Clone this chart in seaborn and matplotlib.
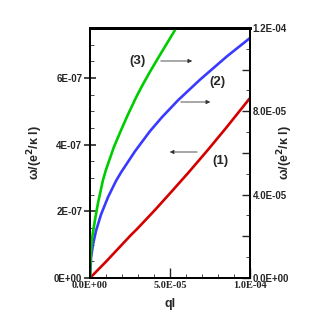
import numpy as np
import pandas as pd
import seaborn as sns
import matplotlib.pyplot as plt
from matplotlib.ticker import MultipleLocator, FuncFormatter

# values
# curve (1) uses the left axis, curves (2) and (3) the right axis
q1 = [0, 1.0e-5, 2.56e-5, 2.94e-5, 4.06e-5, 5.0e-5, 6.13e-5, 7.38e-5, 8.5e-5, 1.0e-4]
w1 = [0, 0.49e-7, 1.29e-7, 1.47e-7, 2.04e-7, 2.54e-7, 3.15e-7, 3.85e-7, 4.5e-7, 5.40e-7]

q2 = [0, 0.01e-5, 0.044e-5, 0.06e-5, 0.19e-5, 0.375e-5, 0.69e-5, 1.125e-5,
      1.625e-5, 1.94e-5, 2.81e-5, 3.75e-5, 4.5e-5, 5.5e-5, 6.875e-5, 8.56e-5, 1.0e-4]
w2 = [0, 0.2e-5, 0.55e-5, 0.95e-5, 1.62e-5, 2.26e-5, 3.05e-5, 3.88e-5,
      4.66e-5, 5.07e-5, 6.08e-5, 7.05e-5, 7.72e-5, 8.53e-5, 9.52e-5, 1.064e-4, 1.152e-4]

q3 = [0, 0.01e-5, 0.044e-5, 0.125e-5, 0.31e-5, 0.5e-5, 0.81e-5, 1.0e-5, 1.5e-5,
      2.0e-5, 2.375e-5, 2.9e-5, 3.31e-5, 3.75e-5, 4.25e-5, 4.8e-5, 5.31e-5]
w3 = [0, 0.3e-5, 1.1e-5, 1.9e-5, 2.78e-5, 3.6e-5, 4.7e-5, 5.2e-5, 6.3e-5,
      7.2e-5, 7.85e-5, 8.7e-5, 9.3e-5, 9.9e-5, 1.055e-4, 1.125e-4, 1.19e-4]

labels = ["(1)", "(2)", "(3)"]
colors = ["#d40000", "#3a3aff", "#00cc00"]

sns.set_style("ticks")
plt.rcParams['font.family'] = ['Liberation Sans', 'DejaVu Sans']

fig = plt.figure(figsize=(3.29, 3.29), dpi=100)
ax = fig.add_axes([90/329, 1-278/329, 160/329, 250/329])
ax2 = ax.twinx()

sns.lineplot(x=q1, y=w1, ax=ax, color=colors[0], lw=1.9, sort=False)
sns.lineplot(x=q2, y=w2, ax=ax2, color=colors[1], lw=1.9, sort=False)
sns.lineplot(x=q3, y=w3, ax=ax2, color=colors[2], lw=1.9, sort=False)

ax.set_xlim(0, 1e-4)
ax.set_ylim(0, 7.5e-7)
ax2.set_ylim(0, 1.2e-4)

ax.xaxis.set_major_locator(MultipleLocator(5e-5))
ax.xaxis.set_minor_locator(MultipleLocator(1e-5))
ax.yaxis.set_major_locator(MultipleLocator(2e-7))
ax.yaxis.set_minor_locator(MultipleLocator(0.5e-7))
ax2.yaxis.set_major_locator(MultipleLocator(2e-5))
ax2.yaxis.set_minor_locator(MultipleLocator(1e-5))

ax.xaxis.set_major_formatter(FuncFormatter(lambda v, p: f"{v:.1E}"))
ax.yaxis.set_major_formatter(FuncFormatter(lambda v, p: f"{v:.0E}"))
ax2.yaxis.set_major_formatter(FuncFormatter(
    lambda v, p: f"{v:.1E}" if round(v / 2e-5) % 2 == 0 else ""))

for a in (ax, ax2):
    for s in a.spines.values():
        s.set_linewidth(1.3)
        s.set_color("black")
ax.spines['top'].set_linewidth(2)
ax2.spines['top'].set_linewidth(2)

ax.tick_params(axis='x', which='major', direction='in', length=7, width=1,
               pad=2, top=False)
ax.tick_params(axis='x', which='minor', direction='in', length=3, width=0.6,
               top=False)
ax.tick_params(axis='y', which='major', direction='inout', length=9, width=1.2, pad=1)
ax.tick_params(axis='y', which='minor', direction='in', length=3, width=0.6)
ax2.tick_params(axis='y', which='major', direction='in', length=6, width=1, pad=2)
ax2.tick_params(axis='y', which='minor', direction='in', length=3, width=0.6)

for t in ax.get_xticklabels():
    t.set_fontfamily('Liberation Serif')
    t.set_fontweight('bold')
    t.set_fontsize(7.5)
for t in ax.get_yticklabels() + ax2.get_yticklabels():
    t.set_fontweight('bold')
    t.set_fontsize(7)

ax.set_xlabel("ql", fontsize=9, fontweight='bold', labelpad=6)
ax.set_ylabel(r"ω/(e$^\mathbf{2}$/κ l)", fontsize=9, fontweight='bold')
ax.yaxis.set_label_coords((45 - 90) / 160, 0.5)
ax2.set_ylabel(r"ω/(e$^\mathbf{2}$/κ l)", fontsize=9, fontweight='bold')
ax2.yaxis.set_label_coords((275 - 90) / 160, 0.5)

# curve labels and arrows pointing at the axis each curve uses
ax.text(0.294, 0.868, labels[2], transform=ax.transAxes, fontsize=9.5,
        fontweight='bold', ha='center', va='center')
ax.annotate("", xy=(0.656, 0.868), xytext=(0.425, 0.868), xycoords='axes fraction',
            arrowprops=dict(arrowstyle='-|>', color='#333333', lw=0.6,
                            mutation_scale=6))
ax.text(0.794, 0.784, labels[1], transform=ax.transAxes, fontsize=9.5,
        fontweight='bold', ha='center', va='center')
ax.annotate("", xy=(0.769, 0.704), xytext=(0.55, 0.704), xycoords='axes fraction',
            arrowprops=dict(arrowstyle='-|>', color='#333333', lw=0.6,
                            mutation_scale=6))
ax.text(0.8125, 0.468, labels[0], transform=ax.transAxes, fontsize=9.5,
        fontweight='bold', ha='center', va='center')
ax.annotate("", xy=(0.481, 0.504), xytext=(0.6875, 0.504), xycoords='axes fraction',
            arrowprops=dict(arrowstyle='-|>', color='#333333', lw=0.6,
                            mutation_scale=6))

fig.savefig("out.png", dpi=100)
